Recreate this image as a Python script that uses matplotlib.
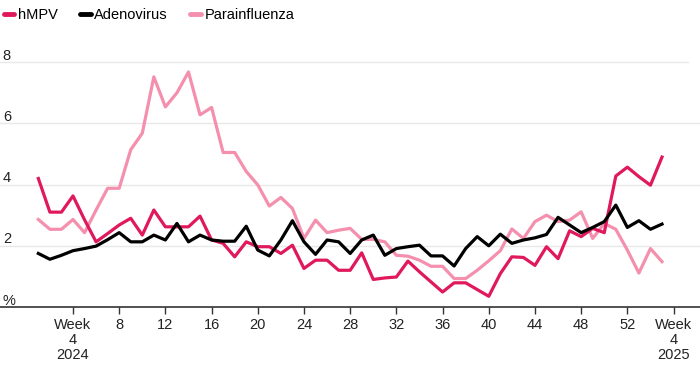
import matplotlib
matplotlib.use("Agg")
import matplotlib.pyplot as plt

# week index: 1..52 = 2024, 53..55 = weeks 1-3 of 2025
weeks = list(range(1, 56))

hmpv = [4.2, 3.1, 3.1, 3.63, 2.85, 2.13, 2.4, 2.68, 2.9, 2.35,
        3.17, 2.62, 2.62, 2.62, 2.97, 2.19, 2.08, 1.64, 2.13, 1.97,
        1.97, 1.75, 2.02, 1.26, 1.53, 1.53, 1.2, 1.2, 1.77, 0.9,
        0.95, 0.98, 1.5, 1.15, 0.82, 0.49, 0.79, 0.79, 0.57, 0.35,
        1.09, 1.64, 1.62, 1.36, 1.97, 1.58, 2.49, 2.3, 2.57, 2.43,
        4.28, 4.57, 4.26, 3.98, 4.9]

adeno = [1.75, 1.56, 1.69, 1.84, 1.91, 1.99, 2.2, 2.43, 2.13, 2.13,
         2.35, 2.19, 2.73, 2.13, 2.35, 2.19, 2.15, 2.15, 2.64, 1.86,
         1.67, 2.19, 2.82, 2.13, 1.72, 2.19, 2.13, 1.75, 2.19, 2.35,
         1.69, 1.91, 1.97, 2.02, 1.67, 1.67, 1.34, 1.91, 2.3, 2.0,
         2.38, 2.08, 2.19, 2.26, 2.37, 2.93, 2.68, 2.43, 2.6, 2.79,
         3.33, 2.6, 2.82, 2.54, 2.71]

para = [2.86, 2.54, 2.54, 2.86, 2.43, 3.17, 3.88, 3.88, 5.14, 5.68,
        7.52, 6.54, 7.0, 7.68, 6.28, 6.52, 5.05, 5.05, 4.43, 3.99,
        3.3, 3.58, 3.22, 2.24, 2.84, 2.43, 2.51, 2.57, 2.21, 2.21,
        2.13, 1.69, 1.66, 1.53, 1.33, 1.33, 0.93, 0.93, 1.2, 1.51,
        1.84, 2.55, 2.24, 2.79, 3.0, 2.79, 2.84, 3.11, 2.24, 2.73,
        2.54, 1.86, 1.11, 1.91, 1.48]

xticks = [4, 8, 12, 16, 20, 24, 28, 32, 36, 40, 44, 48, 52, 56]
xlabels = ["Week\n4\n2024", "8", "12", "16", "20", "24", "28", "32",
           "36", "40", "44", "48", "52", "Week\n4\n2025"]
yticks = [0, 2, 4, 6, 8]
ylabels = ["%", "2", "4", "6", "8"]

plt.rcParams['font.family'] = ['Liberation Sans Narrow', 'Liberation Sans', 'DejaVu Sans']

fig = plt.figure(figsize=(7, 3.68), dpi=100)
ax = fig.add_axes([0, 1 - 307 / 368, 1, (307 - 31.6) / 368])

red = "#e0195c"
pink = "#f48fae"

ax.plot(weeks, hmpv, color=red, lw=2.3, label="hMPV", zorder=3)
ax.plot(weeks, adeno, color="black", lw=2.3, label="Adenovirus", zorder=4)
ax.plot(weeks, para, color=pink, lw=2.3, label="Parainfluenza", zorder=2)

ax.set_xlim(-2.32, 58.29)
ax.set_ylim(0, 9)

for v in yticks[1:]:
    xm = 688 / 700 if v == 8 else 1
    ax.axhline(v, xmin=0, xmax=xm, color="#e8e8e8", lw=1, zorder=1)

for v, lab in zip(yticks, ylabels):
    ax.text(0.004, v + 0.08, lab, transform=ax.get_yaxis_transform(),
            ha="left", va="baseline", fontsize=10.5, color="#222222")

for s in ["top", "right", "left"]:
    ax.spines[s].set_visible(False)
ax.spines["bottom"].set_color("#333333")
ax.spines["bottom"].set_linewidth(1.2)

ax.set_yticks([])
ax.set_xticks(xticks)
ax.set_xticklabels(xlabels, fontsize=10.5, color="#222222", linespacing=1.1)
ax.tick_params(axis="x", length=5, width=1, color="#333333", pad=3)

leg = fig.legend(loc="upper left", bbox_to_anchor=(-0.013, 1.015), ncol=3,
                 frameon=False, fontsize=10.5, handlelength=0.7,
                 handletextpad=0.25, columnspacing=1.55)
for h in leg.legend_handles:
    h.set_linewidth(3.5)
    h.set_solid_capstyle("round")

fig.savefig("out.png", dpi=100)
